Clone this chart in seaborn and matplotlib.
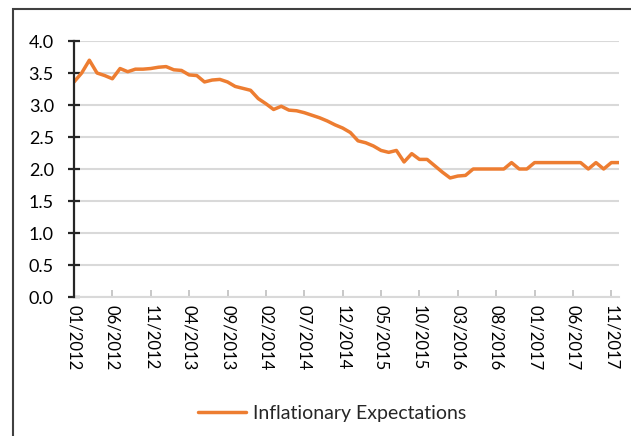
import matplotlib
matplotlib.use("Agg")
import matplotlib.pyplot as plt
import seaborn as sns
import pandas as pd
import numpy as np
from matplotlib.patches import Rectangle
from matplotlib.lines import Line2D

# ---- data ----
months = pd.date_range("2012-01-01", "2017-12-01", freq="MS").strftime("%m/%Y").tolist()
values = [
    3.36, 3.50, 3.70, 3.50, 3.46, 3.41, 3.57, 3.52, 3.56, 3.56, 3.57, 3.59,
    3.60, 3.55, 3.54, 3.47, 3.46, 3.36, 3.39, 3.40, 3.36, 3.29, 3.26, 3.23,
    3.10, 3.02, 2.93, 2.98, 2.92, 2.91, 2.88, 2.84, 2.80, 2.75, 2.69, 2.64,
    2.57, 2.44, 2.41, 2.36, 2.29, 2.26, 2.29, 2.11, 2.24, 2.15, 2.15, 2.05,
    1.95, 1.86, 1.89, 1.90, 2.00, 2.00, 2.00, 2.00, 2.00, 2.10, 2.00, 2.00,
    2.10, 2.10, 2.10, 2.10, 2.10, 2.10, 2.10, 2.00, 2.10, 2.00, 2.10, 2.10,
]
series_name = "Inflationary Expectations"
tick_labels = ["01/2012", "06/2012", "11/2012", "04/2013", "09/2013", "02/2014",
               "07/2014", "12/2014", "05/2015", "10/2015", "03/2016", "08/2016",
               "01/2017", "06/2017", "11/2017"]
y_ticks = [0.0, 0.5, 1.0, 1.5, 2.0, 2.5, 3.0, 3.5, 4.0]

df = pd.DataFrame({"idx": range(len(values)), "month": months, "value": values,
                   "series": series_name})

sns.set_theme(style="white")
plt.rcParams["font.family"] = ["Lato", "DejaVu Sans"]

W, H = 631, 436
fig = plt.figure(figsize=(W / 100, H / 100), dpi=100)
ax = fig.add_axes([74 / W, 1 - 297 / H, (619 - 74) / W, (297 - 41) / H])

sns.lineplot(data=df, x="idx", y="value", hue="series", palette=["#ED7D31"],
             linewidth=2.5, ax=ax, legend=False)

ax.set_xlim(0, len(values) - 1)
ax.set_ylim(0, 4.0)
ax.set_yticks(y_ticks)
ax.set_yticklabels([f"{v:.1f}" for v in y_ticks], fontsize=13, color="#000000")
tick_pos = [months.index(t) for t in tick_labels]
ax.set_xticks(tick_pos)
ax.set_xticklabels(tick_labels, rotation=-90, fontsize=12, color="#000000")
ax.set_xlabel("")
ax.set_ylabel("")

ax.yaxis.grid(True, color="#D9D9D9", linewidth=1.5)
ax.set_axisbelow(True)
for s in ["top", "right"]:
    ax.spines[s].set_visible(False)
ax.spines["left"].set_color("#262626")
ax.spines["left"].set_linewidth(1.6)
ax.spines["left"].set_zorder(3)
ax.spines["bottom"].set_color("#D9D9D9")
ax.spines["bottom"].set_linewidth(1.5)
ax.tick_params(axis="y", left=True, direction="inout", length=9, width=1.6,
               color="#262626", pad=10)
ax.tick_params(axis="x", bottom=True, direction="in", length=5, width=1.2,
               color="#BFBFBF", pad=6)

# legend
h = [Line2D([0], [0], color="#ED7D31", linewidth=2.5)]
fig.legend(h, [series_name], loc="center", bbox_to_anchor=(332 / W, 1 - 413 / H),
           frameon=False, fontsize=14, handlelength=2.5, handletextpad=0.36,
           borderpad=0.1)

# outer frame
fig.patches.append(Rectangle((13 / W, -0.05), 1.0, 1 - 9 / H + 0.05,
                             transform=fig.transFigure, fill=False,
                             edgecolor="#404040", linewidth=1.5))

fig.savefig("out.png", dpi=100)
